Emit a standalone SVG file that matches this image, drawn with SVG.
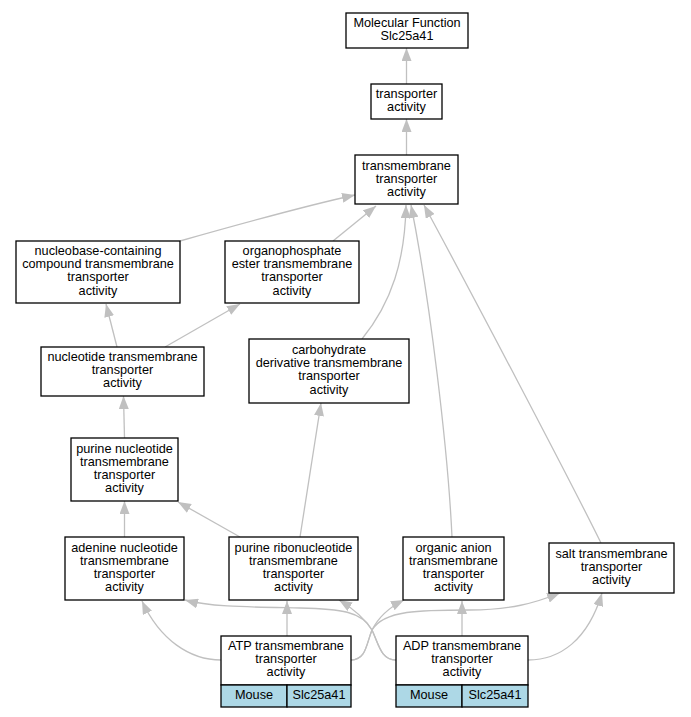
<svg xmlns="http://www.w3.org/2000/svg" width="691" height="717" viewBox="0 0 691 717">
<style>
.n rect{fill:#fff;stroke:#000;stroke-width:1.3}
.n rect.c{fill:#add8e6}
text{font-family:"Liberation Sans",Arial,sans-serif;font-size:12.7px;text-anchor:middle;fill:#000}
.e path{fill:none;stroke:#c0c0c0;stroke-width:1.3;marker-end:url(#a)}
</style>
<defs>
<marker id="a" markerUnits="userSpaceOnUse" viewBox="0 0 13 10" markerWidth="13" markerHeight="10" refX="13" refY="5" orient="auto">
<path d="M0,0 L13,5 L0,10 z" fill="#c0c0c0"/>
</marker>
</defs>
<g class="e" id="edges">
<path d="M406.5,84 L406.5,48"/>
<path d="M406.5,155 L406.5,119"/>
<path d="M180,241 C240,224 300,207 355,195"/>
<path d="M333,241 L376,206"/>
<path d="M362,339 C392,302 405,260 406,205"/>
<path d="M452,537 C448,450 430,300 411,205"/>
<path d="M601,543 C570,480 470,290 424,205"/>
<path d="M117,347 L106,304"/>
<path d="M165,347 L240,304"/>
<path d="M124.5,438 L123.5,396"/>
<path d="M300,537 L321,403"/>
<path d="M124.5,537 L124.5,501"/>
<path d="M240,537 L178,502"/>
<path d="M221,660 C190,660 160,640 142,601"/>
<path d="M287,636 L287,601"/>
<path d="M351,660 C366,660 366,645 372,630 C380,614 392,606 404,600"/>
<path d="M351,660 C366,660 366,645 372,630 C384,610 420,610 470,610 C510,610 535,603 560,593"/>
<path d="M396,660 C381,660 379,645 372,630 C362,611 340,609 300,608 C250,607 210,607 185,600"/>
<path d="M396,660 C381,660 379,645 372,630 C364,617 352,608 339,600"/>
<path d="M462,636 L462,601"/>
<path d="M528,660 C560,660 588,640 602,593"/>
</g>
<g class="n" id="mf"><rect x="346" y="13" width="122" height="35"/><text x="407" y="26.8">Molecular Function</text><text x="407" y="39.9">Slc25a41</text></g>
<g class="n" id="ta"><rect x="371" y="84" width="71" height="35"/><text x="406.5" y="97.8">transporter</text><text x="406.5" y="110.9">activity</text></g>
<g class="n" id="tta"><rect x="355" y="155" width="103" height="49"/><text x="406.5" y="170">transmembrane</text><text x="406.5" y="183.1">transporter</text><text x="406.5" y="196.2">activity</text></g>
<g class="n" id="ncc"><rect x="16" y="241" width="164" height="62"/><text x="98" y="255.2">nucleobase-containing</text><text x="98" y="268.3">compound transmembrane</text><text x="98" y="281.4">transporter</text><text x="98" y="294.5">activity</text></g>
<g class="n" id="ope"><rect x="225" y="241" width="134" height="62"/><text x="292" y="255.2">organophosphate</text><text x="292" y="268.3">ester transmembrane</text><text x="292" y="281.4">transporter</text><text x="292" y="294.5">activity</text></g>
<g class="n" id="nuc"><rect x="41" y="347" width="163" height="49"/><text x="122.5" y="361.2">nucleotide transmembrane</text><text x="122.5" y="374.3">transporter</text><text x="122.5" y="387.4">activity</text></g>
<g class="n" id="car"><rect x="249" y="339" width="160" height="64"/><text x="329" y="354.2">carbohydrate</text><text x="329" y="367.3">derivative transmembrane</text><text x="329" y="380.4">transporter</text><text x="329" y="393.5">activity</text></g>
<g class="n" id="pn"><rect x="71" y="438" width="107" height="63"/><text x="124.5" y="452.7">purine nucleotide</text><text x="124.5" y="465.8">transmembrane</text><text x="124.5" y="478.9">transporter</text><text x="124.5" y="492">activity</text></g>
<g class="n" id="an"><rect x="65" y="537" width="119" height="63"/><text x="124.5" y="551.7">adenine nucleotide</text><text x="124.5" y="564.8">transmembrane</text><text x="124.5" y="577.9">transporter</text><text x="124.5" y="591">activity</text></g>
<g class="n" id="prn"><rect x="229" y="537" width="129" height="63"/><text x="293.5" y="551.7">purine ribonucleotide</text><text x="293.5" y="564.8">transmembrane</text><text x="293.5" y="577.9">transporter</text><text x="293.5" y="591">activity</text></g>
<g class="n" id="oa"><rect x="403" y="537" width="101" height="63"/><text x="453.5" y="551.7">organic anion</text><text x="453.5" y="564.8">transmembrane</text><text x="453.5" y="577.9">transporter</text><text x="453.5" y="591">activity</text></g>
<g class="n" id="salt"><rect x="549" y="543" width="125" height="50"/><text x="611.5" y="557.7">salt transmembrane</text><text x="611.5" y="570.8">transporter</text><text x="611.5" y="583.9">activity</text></g>
<g class="n" id="atp"><rect x="221" y="636" width="130" height="49"/><rect class="c" x="221" y="685" width="66" height="22"/><rect class="c" x="287" y="685" width="64" height="22"/><text x="286" y="650.2">ATP transmembrane</text><text x="286" y="663.3">transporter</text><text x="286" y="676.4">activity</text><text x="254" y="698.5">Mouse</text><text x="319" y="698.5">Slc25a41</text></g>
<g class="n" id="adp"><rect x="396" y="636" width="132" height="49"/><rect class="c" x="396" y="685" width="66" height="22"/><rect class="c" x="462" y="685" width="66" height="22"/><text x="462" y="650.2">ADP transmembrane</text><text x="462" y="663.3">transporter</text><text x="462" y="676.4">activity</text><text x="429" y="698.5">Mouse</text><text x="495" y="698.5">Slc25a41</text></g>
</svg>
